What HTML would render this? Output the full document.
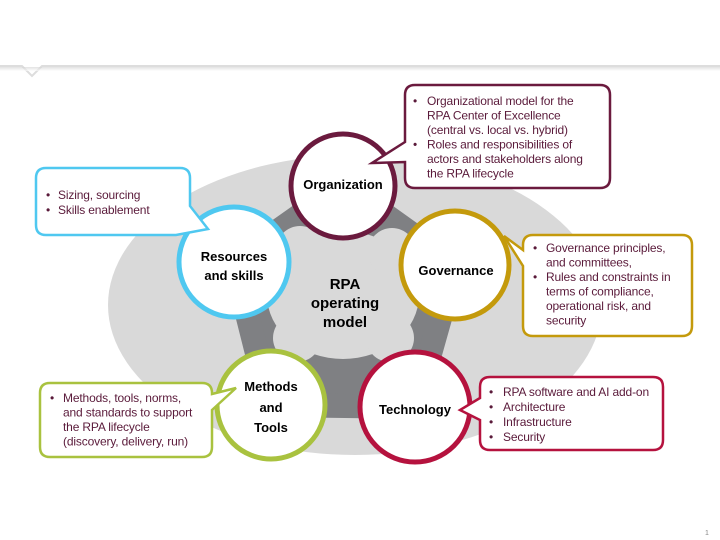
<!DOCTYPE html>
<html><head><meta charset="utf-8"><style>
body{margin:0;background:#fff}
svg{display:block}
text{font-family:"Liberation Sans",sans-serif}
.c{font-size:12px;fill:#5a1a3a;letter-spacing:-0.15px}
.l{font-size:13px;font-weight:bold;fill:#000;text-anchor:middle}
</style></head><body>
<svg width="720" height="540" viewBox="0 0 720 540">
<defs><linearGradient id="g" x1="0" y1="0" x2="0" y2="1"><stop offset="0" stop-color="#d0d0d0"/><stop offset="1" stop-color="#fff"/></linearGradient></defs>
<path d="M0 66 L22 66 L32 76 L42 66 L720 66" fill="none" stroke="#ddd" stroke-width="2"/>
<rect x="0" y="67" width="720" height="4" fill="url(#g)" opacity="0.6"/>
<ellipse cx="355" cy="305" rx="247" ry="150" fill="#d9d9d9"/>
<polygon points="343,185 455,265 415,407 270,405 234,262" fill="#7f8083" stroke="#7f8083" stroke-width="24" stroke-linejoin="round"/>
<ellipse cx="343" cy="295" rx="76" ry="64" fill="#d9d9d9"/>
<circle cx="300" cy="250" r="24" fill="#d9d9d9"/>
<circle cx="392" cy="252" r="24" fill="#d9d9d9"/>
<circle cx="297" cy="338" r="24" fill="#d9d9d9"/>
<circle cx="390" cy="338" r="24" fill="#d9d9d9"/>
<!-- circles -->
<circle cx="343" cy="186" r="52" fill="#fff" stroke="#6b1a3e" stroke-width="5"/>
<circle cx="234" cy="262" r="55" fill="#fff" stroke="#4fc8f0" stroke-width="5"/>
<circle cx="455" cy="265" r="54" fill="#fff" stroke="#c49a0c" stroke-width="5"/>
<circle cx="271" cy="405" r="54" fill="#fff" stroke="#a9c23f" stroke-width="5"/>
<circle cx="415" cy="407" r="55" fill="#fff" stroke="#b5123e" stroke-width="5"/>
<!-- callouts -->
<path d="M415 85 H600 Q610 85 610 95 V178 Q610 188 600 188 H415 Q405 188 405 178 V162 L372 163 L405 142 V95 Q405 85 415 85Z" fill="#fff" stroke="#6b1a3e" stroke-width="2.5"/>
<path d="M46 168 H180 Q190 168 190 178 V206 L208 229 L176 235 H46 Q36 235 36 225 V178 Q36 168 46 168Z" fill="#fff" stroke="#4fc8f0" stroke-width="2.5"/>
<path d="M533 235 H682 Q692 235 692 245 V326 Q692 336 682 336 H533 Q523 336 523 326 V266 L504 236 L523 250 V245 Q523 235 533 235Z" fill="#fff" stroke="#c49a0c" stroke-width="2.5"/>
<path d="M50 383 H202 Q212 383 212 393 V394 L236 388 L212 410 V447 Q212 457 202 457 H50 Q40 457 40 447 V393 Q40 383 50 383Z" fill="#fff" stroke="#a9c23f" stroke-width="2.5"/>
<path d="M490 377 H653 Q663 377 663 387 V440 Q663 450 653 450 H490 Q480 450 480 440 V420 L460 410 L480 398 V387 Q480 377 490 377Z" fill="#fff" stroke="#b5123e" stroke-width="2.5"/>
<text class="l" x="343" y="189">Organization</text>
<text class="l" x="234" y="261">Resources</text><text class="l" x="234" y="280">and skills</text>
<text class="l" x="456" y="275">Governance</text>
<text class="l" x="271" y="391">Methods</text><text class="l" x="271" y="412">and</text><text class="l" x="271" y="432">Tools</text>
<text class="l" x="415" y="414">Technology</text>
<text class="l" style="font-size:15px" x="345" y="289">RPA</text>
<text class="l" style="font-size:15px" x="345" y="308">operating</text>
<text class="l" style="font-size:15px" x="345" y="327">model</text>
<!-- callout text -->
<g class="c">
<text x="413" y="105">•</text><text x="427" y="105">Organizational model for the</text>
<text x="427" y="119.5">RPA Center of Excellence</text>
<text x="427" y="134">(central vs. local vs. hybrid)</text>
<text x="413" y="148.5">•</text><text x="427" y="148.5">Roles and responsibilities of</text>
<text x="427" y="163">actors and stakeholders along</text>
<text x="427" y="177.5">the RPA lifecycle</text>
<text x="46" y="199">•</text><text x="58" y="199">Sizing, sourcing</text>
<text x="46" y="214">•</text><text x="58" y="214">Skills enablement</text>
<text x="533" y="252">•</text><text x="546" y="252">Governance principles,</text>
<text x="546" y="266.5">and committees,</text>
<text x="533" y="281">•</text><text x="546" y="281">Rules and constraints in</text>
<text x="546" y="295.5">terms of compliance,</text>
<text x="546" y="310">operational risk, and</text>
<text x="546" y="324.5">security</text>
<text x="50" y="402">•</text><text x="63" y="402">Methods, tools, norms,</text>
<text x="63" y="416.5">and standards to support</text>
<text x="63" y="431">the RPA lifecycle</text>
<text x="63" y="445.5">(discovery, delivery, run)</text>
<text x="489" y="396">•</text><text x="503" y="396">RPA software and AI add-on</text>
<text x="489" y="411">•</text><text x="503" y="411">Architecture</text>
<text x="489" y="426">•</text><text x="503" y="426">Infrastructure</text>
<text x="489" y="441">•</text><text x="503" y="441">Security</text>
</g>
<text x="705" y="535" style="font-size:7px;fill:#888">1</text>
</svg>
</body></html>
